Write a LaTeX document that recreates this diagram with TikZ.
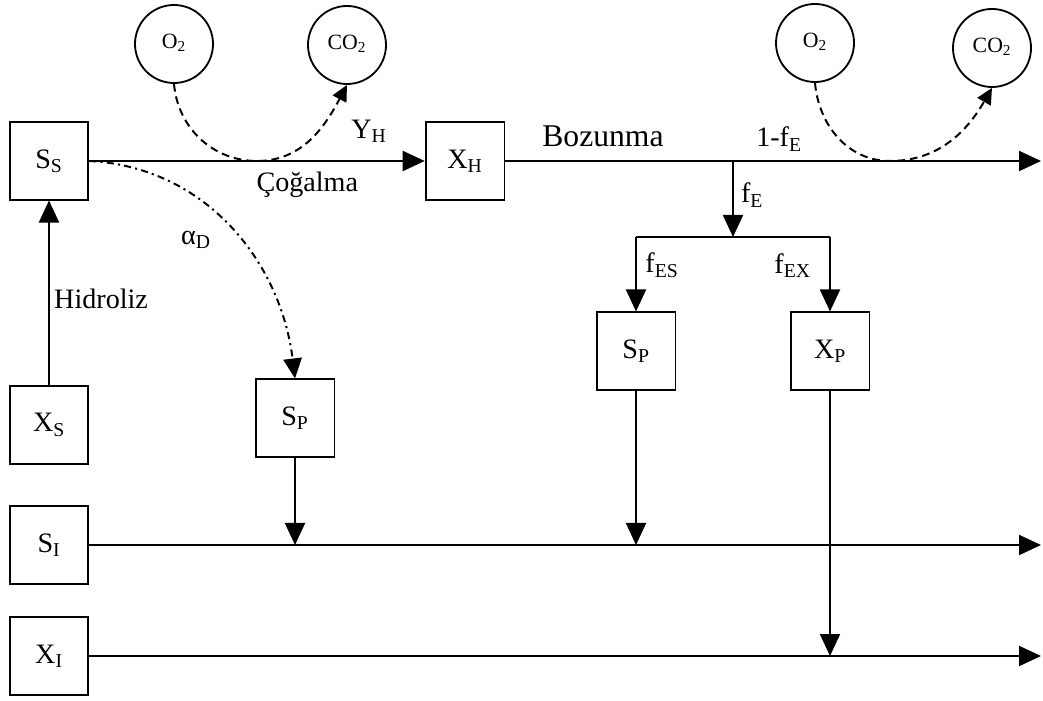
\documentclass[tikz,border=0pt]{standalone}
\usepackage{fontspec}
\setmainfont{Liberation Serif}
\usetikzlibrary{positioning, arrows.meta, calc}

\begin{document}
\begin{tikzpicture}[
    x=0.025cm, y=-0.025cm,
    box/.style={draw, line width=1.3pt, minimum width=1.97cm, minimum height=1.93cm, inner sep=0pt, font=\fontsize{20}{22}\selectfont},
    gas/.style={draw, circle, line width=1.3pt, minimum size=1.95cm, inner sep=0pt, font=\fontsize{15.5}{17}\selectfont},
    lbl/.style={font=\fontsize{20}{22}\selectfont, inner sep=1pt},
    flow/.style={-{Triangle[length=5.5mm, width=5mm]}, line width=1.4pt},
    gasflow/.style={-{Triangle[length=4mm, width=3.8mm]}, line width=1.4pt, dash pattern=on 5.5pt off 3.5pt},
    decay/.style={-{Triangle[length=5mm, width=4.6mm]}, line width=1.4pt, dash pattern=on 5pt off 3pt on 1.5pt off 3pt}
]
    \useasboundingbox (0,0) rectangle (1043,701);

    % === Boxes ===
    \node[box] (SS) at (49,161) {S\textsubscript{S}};
    \node[box] (XS) at (49,425) {X\textsubscript{S}};
    \node[box] (SI) at (49,545) {S\textsubscript{I}};
    \node[box] (XI) at (49,656) {X\textsubscript{I}};
    \node[box] (XH) at (465,161) {X\textsubscript{H}};
    \node[box] (SPa) at (295,418) {S\textsubscript{P}};
    \node[box] (SPb) at (636,351) {S\textsubscript{P}};
    \node[box] (XP) at (830,351) {X\textsubscript{P}};

    % === Gases ===
    \node[gas] (O2a) at (174,44) {\raisebox{4pt}{O\textsubscript{2}}};
    \node[gas] (CO2a) at (347,45) {\raisebox{4pt}{CO\textsubscript{2}}};
    \node[gas] (O2b) at (815,43) {\raisebox{4pt}{O\textsubscript{2}}};
    \node[gas] (CO2b) at (992,48) {\raisebox{4pt}{CO\textsubscript{2}}};

    % === End points ===
    \coordinate (end1) at (1041,161);
    \coordinate (end2) at (1041,545);
    \coordinate (end3) at (1041,656);
    \coordinate (br) at (733,161);
    \coordinate (brd) at (733,237);
    \coordinate (bl) at (SPb.north |- brd);
    \coordinate (brr) at (XP.north |- brd);

    % Growth and decay
    \draw[flow] (XS) -- (SS) node[lbl, pos=0.47, right=2pt] {Hidroliz};
    \draw[flow] (SS) -- (XH) node[lbl, pos=0.65, below=6pt] {Çoğalma};
    \draw[flow] (XH) -- (end1);
    \node[lbl, font=\fontsize{22.5}{24}\selectfont] at (603,136) {Bozunma};
    \node[lbl] at (779,139) {1-f\textsubscript{E}};
    \node[lbl] at (369,131) {Y\textsubscript{H}};

    % Oxygen uptake
    \draw[gasflow] (O2a.south) to[out=-85, in=180] (257,161) to[out=0, in=-118] (CO2a.south);
    \draw[gasflow] (O2b.south) to[out=-85, in=180] (890,161) to[out=0, in=-120] (CO2b.south);

    % Fractions of decay
    \draw[flow] (br) -- (brd) node[lbl, pos=0.45, right=4pt] {f\textsubscript{E}};
    \draw[line width=1.4pt] (bl) -- (brr);
    \draw[flow] (bl) -- (SPb) node[lbl, pos=0.38, right=5pt] {f\textsubscript{ES}};
    \draw[flow] (brr) -- (XP) node[lbl, pos=0.38, left=12pt] {f\textsubscript{EX}};

    % Hydrolysis products
    \draw[decay] (SS.east) to[out=-3, in=97] (SPa.north);
    \node[lbl] at (196,240) {α\textsubscript{D}};

    % Inert lines
    \draw[flow] (SI) -- (end2);
    \draw[flow] (XI) -- (end3);
    \draw[flow] (SPa) -- (SPa.south |- SI.east);
    \draw[flow] (SPb) -- (SPb.south |- SI.east);
    \draw[flow] (XP) -- (XP.south |- XI.east);
\end{tikzpicture}
\end{document}
